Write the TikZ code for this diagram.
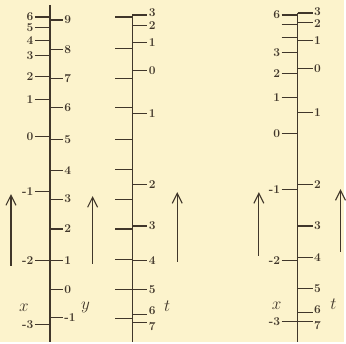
\documentclass[tikz,border=0pt]{standalone}
\usetikzlibrary{arrows.meta}
\definecolor{paper}{HTML}{FCF3CC}
\definecolor{ink}{HTML}{40362A}
\tikzset{
  every picture/.style={line width=1.2pt},
  scaleline/.style={draw=ink, line width=1.5pt},
  tickline/.style={draw=ink, line width=1.2pt},
  lab/.style={font=\fontsize{12}{12}\selectfont\bfseries, text=ink, inner sep=1pt},
  var/.style={font=\fontsize{17}{17}\selectfont, text=ink, inner sep=0pt},
  uparrow/.style={-{Straight Barb[length=10pt, width=10pt, line width=1.1pt]}, draw=ink, line width=1.3pt},
}

\begin{document}
\begin{tikzpicture}[x=1pt, y=-1pt]
  \fill[paper] (0,0) rectangle (346,344);
  % first pair of scales: x on the left, y on the right
  \draw[scaleline] (50,5) -- (50,344);
  \foreach \v/\p [count=\i] in {6/17, 5/28, 4/41, 3/56, 2/77, 1/100, 0/137, -1/192, -2/262, -3/326} {
    \draw[tickline] (35,\p) -- (50,\p);
    \node[lab, anchor=east] (xa\i) at (35,\p) {\v};
  }
  \foreach \v/\p [count=\i] in {9/20, 8/50, 7/79, 6/108, 5/140, 4/171, 3/200, 2/230, 1/262, 0/291, -1/319} {
    \draw[tickline] (50,\p) -- (63,\p);
    \node[lab, anchor=west] (ya\i) at (63,\p) {\v};
  }
  \node[var] (xva) at (24,309) {$x$};
  \node[var] (yva) at (86,309) {$y$};
  % second scale: y ticks on the left, t on the right
  \draw[scaleline] (133,15) -- (133,344);
  \foreach \p in {17, 49, 79, 108, 140, 170, 200, 230, 261, 291, 320}
    \draw[tickline] (116,\p) -- (133,\p);
  \foreach \v/\p/\q [count=\i] in {3/15/13, 2/26/26, 1/43/43, 0/71/71, 1/114/114, 2/185/185,
      3/227/227, 4/262/262, 5/291/291, 6/316/312, 7/324/328} {
    \draw[tickline] (133,\p) -- (148,\p);
    \node[lab, anchor=west] (tb\i) at (148,\q) {\v};
  }
  \node[var] (tvb) at (168,308) {$t$};
  % third scale: x on the left, t on the right
  \draw[scaleline] (299,13) -- (299,344);
  \foreach \v/\p [count=\i] in {6/15, /25, /38, 3/53, 2/74, 1/98, 0/134, -1/190, -2/262, -3/323} {
    \draw[tickline] (283,\p) -- (299,\p);
    \node[lab, anchor=east] (xc\i) at (283,\p) {\v};
  }
  \foreach \v/\p/\q [count=\i] in {3/13/12, 2/23/24, 1/41/41, 0/69/69, 1/113/113, 2/185/185,
      3/227/227, 4/259/259, 5/290/290, 6/314/311, 7/323/327} {
    \draw[tickline] (299,\p) -- (314,\p);
    \node[lab, anchor=west] (tc\i) at (314,\q) {\v};
  }
  \node[var] (xvc) at (278,307) {$x$};
  \node[var] (tvc) at (335,306) {$t$};
  % direction arrows
  \draw[uparrow] (11,267) -- (11,195);
  \draw[uparrow] (93,265) -- (93,197);
  \draw[uparrow] (178,263) -- (178,193);
  \draw[uparrow] (260,257) -- (260,193);
  \draw[uparrow] (342,253) -- (342,190);
\end{tikzpicture}
\end{document}
